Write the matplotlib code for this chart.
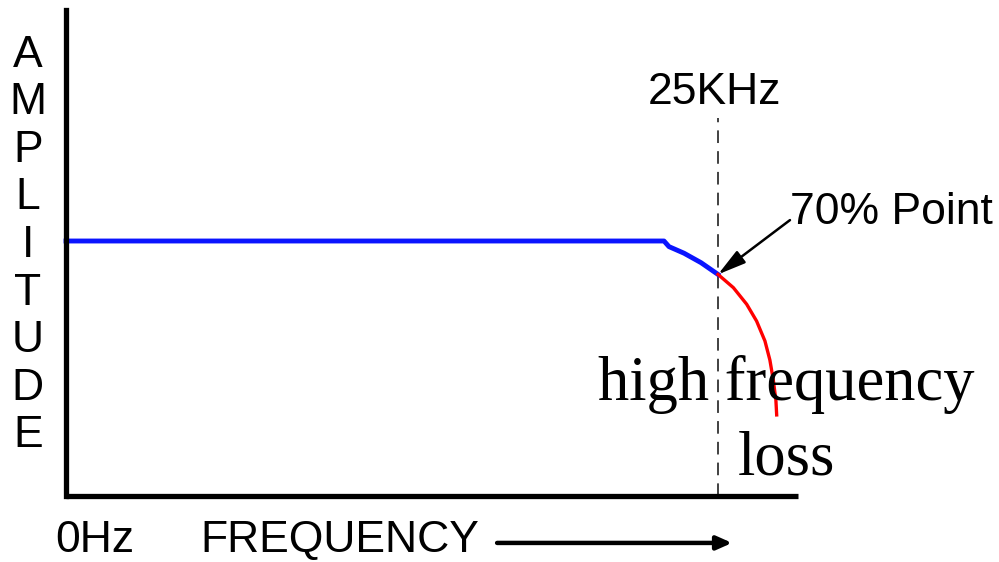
import matplotlib.pyplot as plt

# frequency in kHz, amplitude normalised to the flat passband level
pass_freq = [0.0, 22.93, 23.12, 23.70, 24.35, 25.0]
pass_amp = [1.0, 1.0, 0.978, 0.952, 0.915, 0.869]
loss_freq = [25.0, 25.59, 26.10, 26.48, 26.80, 26.99, 27.12, 27.22, 27.25]
loss_amp = [0.869, 0.817, 0.752, 0.686, 0.608, 0.533, 0.455, 0.376, 0.318]
cutoff_khz = 25.0
cutoff_amp = 0.869
axis_end_khz = 28.07
axis_top_amp = 1.906
ylabel_letters = list("AMPLITUDE")


def main():
    fig = plt.figure(figsize=(9.99, 5.62), dpi=100)
    ax = fig.add_axes([0, 0, 1, 1])
    ax.set_xlim(-2.531, 35.775)
    ax.set_ylim(-0.2588, 1.9451)
    ax.axis('off')

    sans = 'Liberation Sans'
    serif = 'Liberation Serif'

    # axes drawn by hand, like the original sketch
    ax.plot([0, axis_end_khz], [0, 0], color='black', lw=3.8, solid_capstyle='butt', zorder=3)
    ax.plot([0, 0], [0, axis_top_amp], color='black', lw=3.8, solid_capstyle='projecting', zorder=3)

    # cutoff marker
    ax.plot([cutoff_khz, cutoff_khz], [0, 1.482], color='#333333', lw=1.3,
            dashes=(7, 4.5), zorder=1)

    ax.plot(pass_freq, pass_amp, color='#0a14ff', lw=3.5, zorder=2,
            solid_joinstyle='round')
    ax.plot(loss_freq, loss_amp, color='#ff0000', lw=2.4, zorder=2,
            solid_joinstyle='round')

    # vertical "AMPLITUDE" label
    for i, ch in enumerate(ylabel_letters):
        y = (496 - (55 + i * 47.6)) / 255
        ax.text(-1.46, y, ch, family=sans, fontsize=32, ha='center', va='center')

    ax.text(24.85, 1.584, '25KHz', family=sans, fontsize=32, ha='center', va='center')
    ax.text(27.76, 1.11, '70% Point', family=sans, fontsize=32, ha='left', va='center')
    ax.annotate('', xy=(cutoff_khz, cutoff_amp), xytext=(27.76, 1.082),
                arrowprops=dict(arrowstyle='-|>,head_length=1.7,head_width=0.45',
                                color='black', lw=1.8, shrinkA=0, shrinkB=0))

    ax.text(-0.42, -0.176, '0Hz', family=sans, fontsize=32, ha='left', va='center')
    ax.text(5.14, -0.176, 'FREQUENCY', family=sans, fontsize=32, ha='left', va='center')
    ax.annotate('', xy=(25.54, -0.184), xytext=(16.53, -0.184),
                arrowprops=dict(arrowstyle='-|>,head_length=0.9,head_width=0.4',
                                color='black', lw=3.2, shrinkA=0, shrinkB=0))

    ax.text(27.61, 0.376, 'high frequency', family=serif, fontsize=45,
            ha='center', va='baseline', zorder=4)
    ax.text(27.61, 0.086, 'loss', family=serif, fontsize=45,
            ha='center', va='baseline', zorder=4)

    fig.savefig('out.png', dpi=100, facecolor='white')
    plt.close(fig)


if __name__ == '__main__':
    main()
